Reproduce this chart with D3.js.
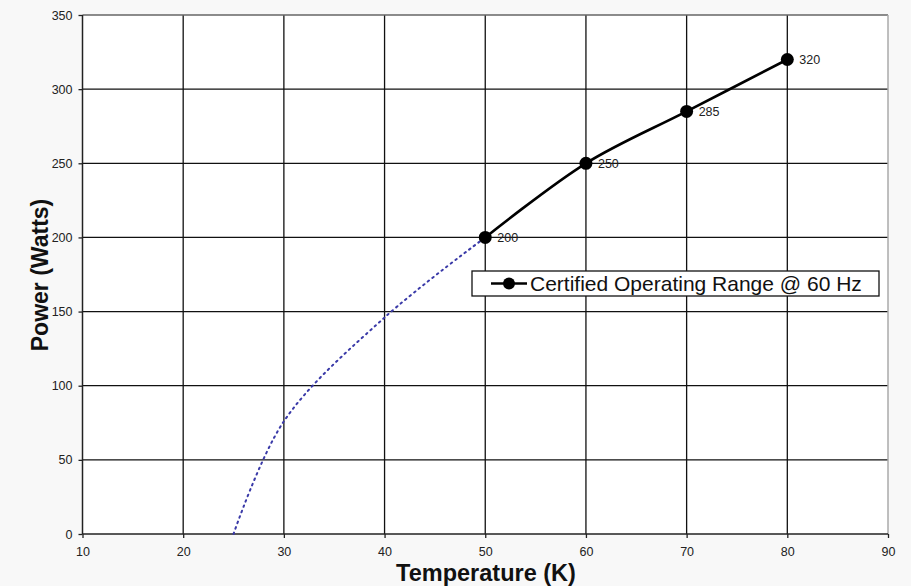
<!DOCTYPE html>
<html><head><meta charset="utf-8">
<script src="https://cdn.jsdelivr.net/npm/d3@7"></script>
<style>
html,body{margin:0;padding:0;background:#f8f8f8;}
svg{display:block;font-family:Arial,"Liberation Sans",sans-serif;}
</style></head>
<body>
<svg id="c" width="911" height="586"></svg>
<script>
const xTicks = [10,20,30,40,50,60,70,80,90];
const yTicks = [0,50,100,150,200,250,300,350];
const certTemp = [50,60,70,80];
const certPower = [200,250,285,320];
const extTemp = [25,30,40,50];
const extPower = [0,76,146,200];
const legendLabel = "Certified Operating Range @ 60 Hz";

const svg = d3.select("#c");
const m = {l:82.5, r:888, t:15, b:534};
const x = d3.scaleLinear().domain([10,90]).range([m.l,m.r]);
const y = d3.scaleLinear().domain([0,350]).range([m.b,m.t]);

svg.append("rect").attr("x",m.l).attr("y",m.t).attr("width",m.r-m.l).attr("height",m.b-m.t).attr("fill","#fff");

// grid
const g = svg.append("g");
g.selectAll(".vg").data(xTicks.filter(d=>d>10 && d<90)).join("line")
  .attr("x1",d=>x(d)).attr("x2",d=>x(d)).attr("y1",m.t).attr("y2",m.b)
  .attr("stroke","#111").attr("stroke-width",1.3);
g.selectAll(".hg").data(yTicks.filter(d=>d>0 && d<350)).join("line")
  .attr("x1",m.l).attr("x2",m.r).attr("y1",d=>y(d)).attr("y2",d=>y(d))
  .attr("stroke","#111").attr("stroke-width",1.3);
// top border & right border
svg.append("line").attr("x1",m.l).attr("x2",m.r).attr("y1",m.t).attr("y2",m.t).attr("stroke","#666").attr("stroke-width",1.3);
svg.append("line").attr("x1",m.r).attr("x2",m.r).attr("y1",m.t).attr("y2",m.b).attr("stroke","#aaa").attr("stroke-width",1.5);

// axes
const xAxis = d3.axisBottom(x).tickValues(xTicks).tickSize(4).tickPadding(9);
const yAxis = d3.axisLeft(y).tickValues(yTicks).tickSize(4).tickPadding(6);
const ax = svg.append("g").attr("transform",`translate(0,${m.b})`).call(xAxis);
const ay = svg.append("g").attr("transform",`translate(${m.l},0)`).call(yAxis);
[ax,ay].forEach(a=>{
  a.select(".domain").attr("stroke","#222").attr("stroke-width",1.5);
  a.selectAll(".tick line").attr("stroke","#222").attr("stroke-width",1.3);
  a.selectAll("text").attr("fill","#222").style("font-size","12.5px");
});
ax.select(".domain").attr("d",`M${m.l},0H${m.r}`);
ay.select(".domain").attr("d",`M0,${m.t}V${m.b}`);

// dotted extrapolation
const ext = extTemp.map((t,i)=>[t,extPower[i]]);
const line = d3.line().x(d=>x(d[0])).y(d=>y(d[1])).curve(d3.curveCatmullRom.alpha(0.5));
svg.append("path").attr("d",line(ext)).attr("fill","none")
  .attr("stroke","#3a3aa8").attr("stroke-width",2).attr("stroke-dasharray","1.6,4.2").attr("stroke-linecap","round");

// certified line
const cert = certTemp.map((t,i)=>[t,certPower[i]]);
svg.append("path").attr("d",line(cert)).attr("fill","none").attr("stroke","#000").attr("stroke-width",2.6);
svg.selectAll(".pt").data(cert).join("circle")
  .attr("cx",d=>x(d[0])).attr("cy",d=>y(d[1])).attr("r",6.5).attr("fill","#000");
svg.selectAll(".lbl").data(cert).join("text")
  .attr("x",d=>x(d[0])+12).attr("y",d=>y(d[1])+4.5).text(d=>d[1])
  .attr("fill","#222").style("font-size","12.5px");

// legend
const lg = svg.append("g");
lg.append("rect").attr("x",472).attr("y",271).attr("width",407).attr("height",25)
  .attr("fill","#fff").attr("stroke","#111").attr("stroke-width",1.3);
lg.append("line").attr("x1",491).attr("x2",527).attr("y1",283.5).attr("y2",283.5).attr("stroke","#000").attr("stroke-width",2.6);
lg.append("circle").attr("cx",509).attr("cy",283.5).attr("r",6).attr("fill","#000");
lg.append("text").attr("x",530).attr("y",291).text(legendLabel).attr("fill","#111").style("font-size","21px");

// titles
svg.append("text").attr("transform","translate(48,275) rotate(-90)").attr("text-anchor","middle")
  .text("Power (Watts)").attr("fill","#111").style("font-size","23px").style("font-weight","bold");
svg.append("text").attr("x",486).attr("y",581).attr("text-anchor","middle")
  .text("Temperature (K)").attr("fill","#111").style("font-size","23.5px").style("font-weight","bold");
</script>
</body></html>
